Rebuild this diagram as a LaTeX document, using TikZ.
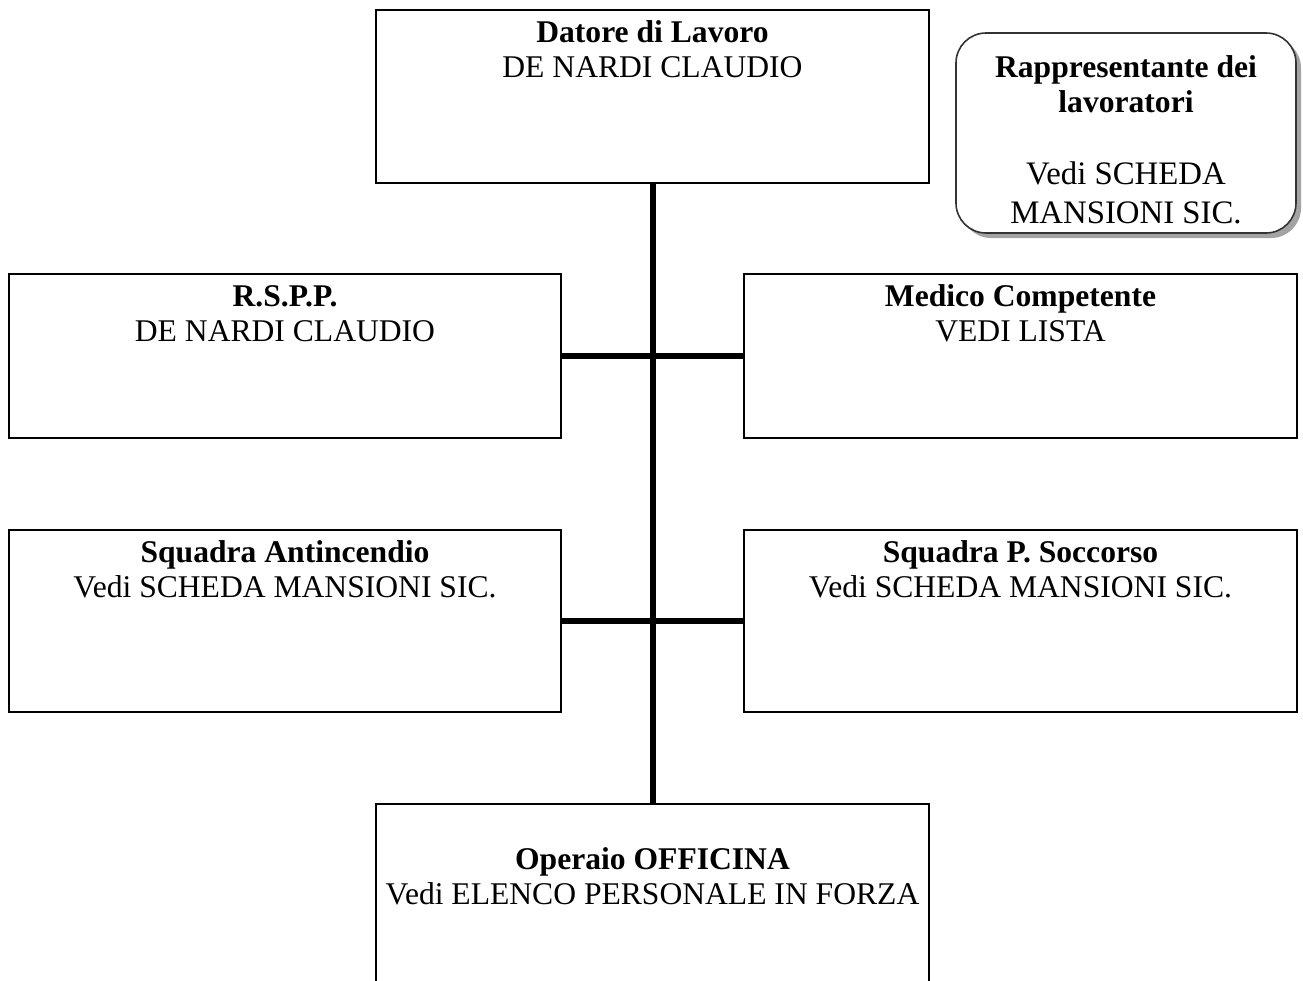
\documentclass[tikz,border=0pt]{standalone}
\usepackage{fontspec}
\setmainfont{Liberation Serif}
\usetikzlibrary{shadows}
\begin{document}
\begin{tikzpicture}[x=0.5pt,y=-0.5pt,
  box/.style={draw=black, line width=1pt, rectangle, inner sep=0pt},
  rbox/.style={draw=black!80, line width=0.8pt, rectangle, rounded corners=15pt, inner sep=0pt, fill=white,
    drop shadow={shadow xshift=2.5pt, shadow yshift=-2.5pt, fill=black!45, opacity=0.8}},
  txt/.style={align=center, inner sep=0pt, anchor=north, font=\fontsize{15.8pt}{17.5pt}\selectfont},
  btxt/.style={align=center, inner sep=0pt, anchor=north, font=\fontsize{16.4pt}{19.5pt}\selectfont},
  link/.style={line width=3pt}]
\useasboundingbox (0,0) rectangle (1303,981);
\clip (0,0) rectangle (1303,981);
\fill[white] (0,0) rectangle (1303,981);

% boxes
\node[box, minimum width=276.5pt, minimum height=86.5pt] (dl) at (652.5,96.5) {};
\node[box, minimum width=276pt, minimum height=82pt] (rspp) at (285,356) {};
\node[box, minimum width=276.5pt, minimum height=82pt] (med) at (1020.5,356) {};
\node[box, minimum width=276pt, minimum height=91pt] (anti) at (285,621) {};
\node[box, minimum width=276.5pt, minimum height=91pt] (socc) at (1020.5,621) {};
\node[box, minimum width=276.5pt, minimum height=98pt] (op) at (652.5,902) {};
\node[rbox, minimum width=170pt, minimum height=100pt] (rl) at (1126,133) {};

% connectors
\draw[link] (dl.south) -- (op.north);
\draw[link] (rspp.east) -- (med.west);
\draw[link] (anti.east) -- (socc.west);

% texts
\node[txt] (dlt) at ([yshift=-4.25pt]dl.north) {\strut\textbf{Datore di Lavoro}\\DE NARDI CLAUDIO};
\node[txt] (rsppt) at ([yshift=-4.25pt]rspp.north) {\strut\textbf{R.S.P.P.}\\DE NARDI CLAUDIO};
\node[txt] (medt) at ([yshift=-4.25pt]med.north) {\strut\textbf{Medico Competente}\\VEDI LISTA};
\node[txt] (antit) at ([yshift=-4.25pt]anti.north) {\strut\textbf{Squadra Antincendio}\\Vedi SCHEDA MANSIONI SIC.};
\node[txt] (socct) at ([yshift=-4.25pt]socc.north) {\strut\textbf{Squadra P. Soccorso}\\Vedi SCHEDA MANSIONI SIC.};
\node[txt] (opt) at ([yshift=-20.75pt]op.north) {\strut\textbf{Operaio OFFICINA}\\Vedi ELENCO PERSONALE IN FORZA};
\node[txt] (rlt) at ([yshift=-10.25pt]rl.north) {\strut\textbf{Rappresentante dei}\\\textbf{lavoratori}};
\node[btxt] (rlb) at ([yshift=-62.35pt]rl.north) {\strut Vedi SCHEDA\\MANSIONI SIC.};
\end{tikzpicture}
\end{document}
